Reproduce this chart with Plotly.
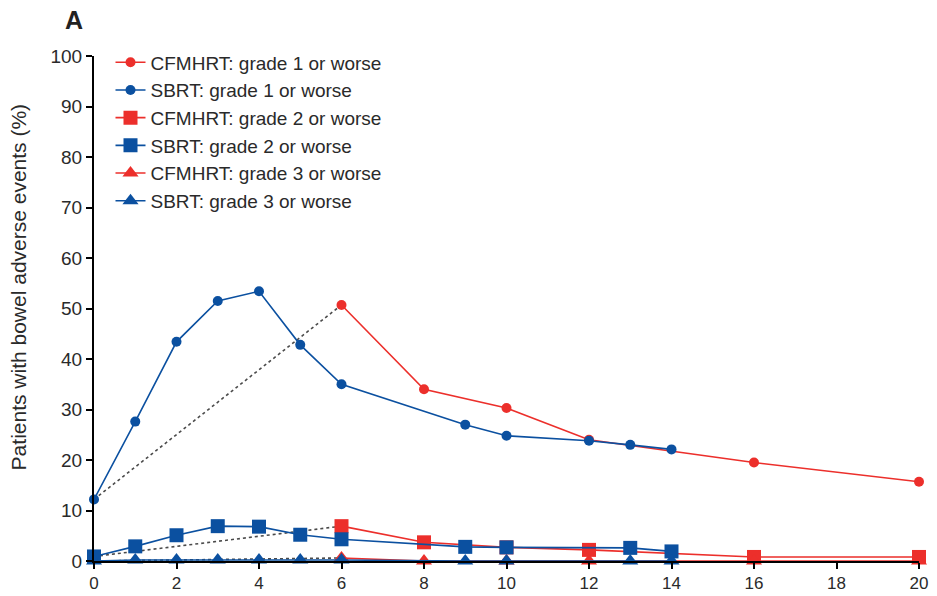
import plotly.graph_objects as go

# Months since start of treatment and % of patients with bowel adverse events
sbrt_x = [0, 1, 2, 3, 4, 5, 6, 9, 10, 12, 13, 14]
sbrt_g1 = [12.2, 27.6, 43.4, 51.5, 53.4, 42.8, 35.0, 27.0, 24.8, 23.8, 23.0, 22.1]

sbrt_x2 = [0, 1, 2, 3, 4, 5, 6, 9, 10, 13, 14]
sbrt_g2 = [0.9, 2.9, 5.1, 6.9, 6.8, 5.2, 4.3, 2.8, 2.7, 2.6, 1.9]
sbrt_g3 = [0.0, 0.2, 0.2, 0.2, 0.2, 0.2, 0.2, 0.0, 0.0, 0.0, 0.0]

cfm_x = [0, 6, 8, 10, 12, 16, 20]
cfm_g1 = [12.2, 50.7, 34.0, 30.3, 24.0, 19.5, 15.7]
cfm_g2 = [0.9, 6.9, 3.7, 2.7, 2.2, 0.8, 0.8]
cfm_g3 = [0.0, 0.6, 0.0, 0.0, 0.0, 0.0, 0.0]

x_ticks = list(range(0, 21, 2))
y_ticks = list(range(0, 101, 10))

RED = "#EC2F2B"
BLUE = "#0B50A0"
DASH = "#4a4a4a"
TXT = "#2a2a2a"

fig = go.Figure()

# dashed connectors from baseline to the first CFMHRT follow-up
for ys in (cfm_g1, cfm_g2, cfm_g3):
    fig.add_trace(go.Scatter(
        x=cfm_x[:2], y=ys[:2], mode="lines", showlegend=False,
        line=dict(color=DASH, width=1.6, dash="3px,3px"), cliponaxis=False))

series = [
    ("CFMHRT: grade 1 or worse", cfm_x[1:], cfm_g1[1:], RED, "circle", 10),
    ("SBRT: grade 1 or worse", sbrt_x, sbrt_g1, BLUE, "circle", 10),
    ("CFMHRT: grade 2 or worse", cfm_x[1:], cfm_g2[1:], RED, "square", 14),
    ("SBRT: grade 2 or worse", sbrt_x2, sbrt_g2, BLUE, "square", 14),
    ("CFMHRT: grade 3 or worse", cfm_x[1:], cfm_g3[1:], RED, "triangle-up", 14),
    ("SBRT: grade 3 or worse", sbrt_x2, sbrt_g3, BLUE, "triangle-up", 14),
]

for i, (name, xs, ys, col, sym, sz) in enumerate(series):
    fig.add_trace(go.Scatter(
        x=xs, y=ys, name=name, mode="lines+markers", legendgroup=f"g{i}",
        line=dict(color=col, width=1.6),
        marker=dict(color=col, symbol=sym, size=sz, line=dict(width=0)),
        cliponaxis=False))

axis_common = dict(
    showgrid=False, zeroline=False, showline=True, linecolor="black",
    linewidth=2, ticks="outside", ticklen=6, tickwidth=2, tickcolor="black",
    automargin=False)

fig.update_layout(
    width=937, height=596,
    margin=dict(l=94, r=18, t=56, b=35),
    paper_bgcolor="white", plot_bgcolor="white",
    font=dict(family="Liberation Sans, Arial, sans-serif", size=19, color=TXT),
    showlegend=True,
    legend=dict(x=0.02, y=1.025, xanchor="left", yanchor="top",
                bgcolor="rgba(0,0,0,0)", borderwidth=0,
                tracegroupgap=0, traceorder="grouped",
                font=dict(size=19, color=TXT)),
    xaxis=dict(range=[0, 20], tickvals=x_ticks,
               ticktext=[str(v) for v in x_ticks],
               tickfont=dict(size=17, color=TXT), **axis_common),
    yaxis=dict(range=[0, 100], tickvals=y_ticks,
               ticktext=[str(v) for v in y_ticks],
               tickfont=dict(size=19, color=TXT), **axis_common),
    annotations=[
        dict(text="<b>A</b>", xref="paper", yref="paper", x=-0.038, y=1.071,
             xanchor="left", yanchor="middle", showarrow=False,
             font=dict(size=25, color="#222")),
        dict(text="Patients with bowel adverse events (%)", xref="paper", yref="paper",
             x=-0.092, y=0.542, xanchor="center", yanchor="middle", textangle=-90,
             showarrow=False, font=dict(size=21, color=TXT)),
    ],
)

fig.write_html("out.html")
